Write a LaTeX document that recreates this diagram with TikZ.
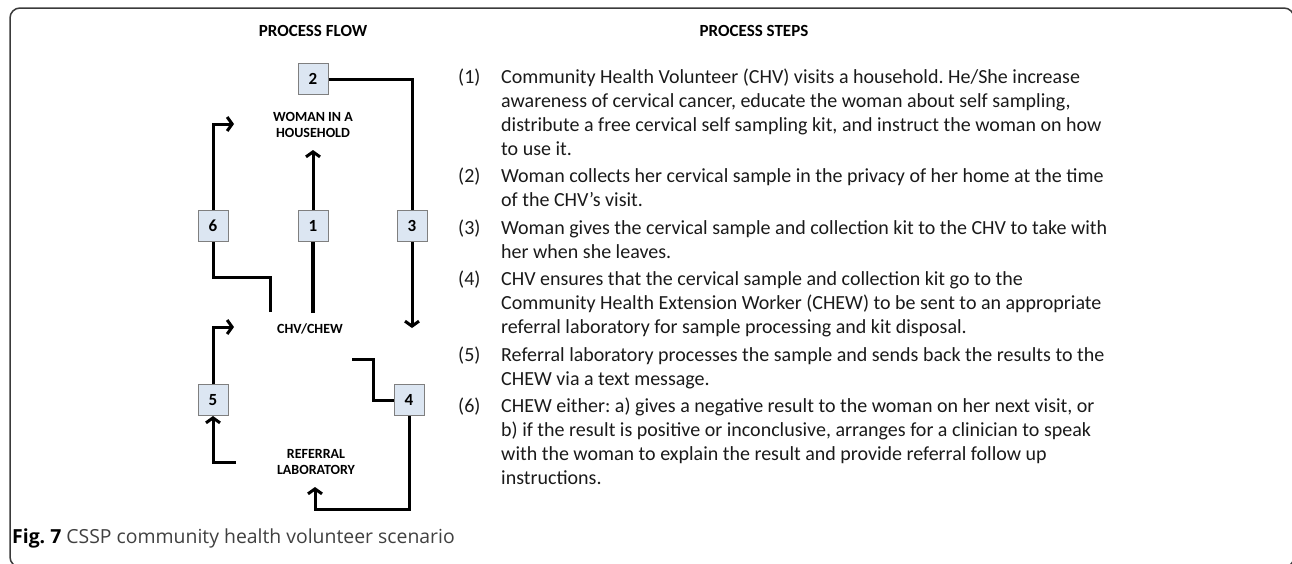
\documentclass[tikz,border=0pt]{standalone}
\usepackage{fontspec}
\setmainfont{Carlito}
\newfontfamily\capfont{Open Sans}
\usetikzlibrary{arrows.meta}
\definecolor{boxfill}{HTML}{DCE6F2}
\definecolor{boxline}{HTML}{7F7F7F}
\definecolor{framec}{HTML}{3A3A3A}
\definecolor{capgray}{HTML}{404040}
\definecolor{bodyc}{HTML}{1A1A1A}
\frenchspacing
\begin{document}
\begin{tikzpicture}[x=1pt,y=-1pt,
  flow/.style={line width=3pt,black},
  heavy/.style={line width=4.5pt,black},
  arr/.style={-{Straight Barb[length=5pt,width=14pt]}},
  numbox/.style={draw=boxline,fill=boxfill,line width=1pt,minimum width=30pt,
    minimum height=31pt,inner sep=0pt,font=\bfseries\fontsize{17}{17}\selectfont},
  place/.style={font=\bfseries\fontsize{14}{16}\selectfont,align=center,inner sep=0pt},
  head/.style={font=\bfseries\fontsize{17}{17}\selectfont,inner sep=0pt},
  stepnum/.style={anchor=base west,inner sep=0pt,text=bodyc,font=\fontsize{20}{24}\selectfont},
  % multi-line nodes: the base anchor sits on the last line
  steptext/.style={anchor=base west,inner sep=0pt,align=left,text=bodyc,font=\fontsize{20}{24}\selectfont}]
\useasboundingbox (0,0) rectangle (1292,563);

% outer frame, running off the right and bottom edges
\begin{scope}
  \clip (0,0) rectangle (1292,563);
  \draw[framec,line width=1.5pt,rounded corners=10pt] (10,8) rectangle (1294,567);
\end{scope}

% headings
\node[head] (hflow) at (313,31) {PROCESS FLOW};
\node[head] (hsteps) at (754,31) {PROCESS STEPS};

% places
\node[place] (woman) at (313,125) {WOMAN IN A\\HOUSEHOLD};
\node[place] (chv) at (310,329) {CHV/CHEW};
\node[place] (lab) at (316,462) {REFERRAL\\LABORATORY};

% step numbers
\node[numbox] (b2) at (313,79) {2};
\node[numbox] (b6) at (213,226) {6};
\node[numbox] (b1) at (313,226) {1};
\node[numbox] (b3) at (412,226) {3};
\node[numbox] (b5) at (213,400) {5};
\node[numbox] (b4) at (409,400) {4};

% free ends of the connectors
\coordinate (c1s) at (313,313);
\coordinate (c1e) at (313,150);
\coordinate (c3e) at (412,328);
\coordinate (c6s) at (270,312);
\coordinate (c6k) at (270,277);
\coordinate (c6e) at (234,124);
\coordinate (c5s) at (236,462);
\coordinate (c5e) at (234,327);
\coordinate (c4s) at (352,359);
\coordinate (c4k) at (373,359);
\coordinate (c4b) at (315,509);
\coordinate (c4e) at (315,487);

% (1) CHV to woman
\draw[heavy] (c1s) -- (b1.south);
\draw[flow,arr] (b1.north) -- (c1e);
% (2)-(3) woman back to CHV
\draw[flow] (b2.east) -| (b3.north);
\draw[flow,arr] (b3.south) -- (c3e);
% (4) CHV to laboratory
\draw[flow] (c4s) -- (c4k) |- (b4.west);
\draw[flow,arr] (b4.south) |- (c4b) -- (c4e);
% (5) laboratory to CHEW
\draw[flow,arr] (c5s) -| (b5.south);
\draw[flow,arr] (b5.north) |- (c5e);
% (6) CHEW to woman
\draw[flow] (c6s) -- (c6k) -| (b6.south);
\draw[flow,arr] (b6.north) |- (c6e);

% process steps (number on the first baseline, text block on its last one)
\node[stepnum] (n1) at (458,83) {(1)};
\node[steptext] (t1) at (501,155) {Community Health Volunteer (CHV) visits a household. He/She increase\\
awareness of cervical cancer, educate the woman about self sampling,\\
distribute a free cervical self sampling kit, and instruct the woman on how\\
to use it.};
\node[stepnum] (n2) at (458,182.5) {(2)};
\node[steptext] (t2) at (501,206.5) {Woman collects her cervical sample in the privacy of her home at the time\\
of the CHV’s visit.};
\node[stepnum] (n3) at (458,234) {(3)};
\node[steptext] (t3) at (501,258) {Woman gives the cervical sample and collection kit to the CHV to take with\\
her when she leaves.};
\node[stepnum] (n4) at (458,285.5) {(4)};
\node[steptext] (t4) at (501,333.5) {CHV ensures that the cervical sample and collection kit go to the\\
Community Health Extension Worker (CHEW) to be sent to an appropriate\\
referral laboratory for sample processing and kit disposal.};
\node[stepnum] (n5) at (458,361) {(5)};
\node[steptext] (t5) at (501,385) {Referral laboratory processes the sample and sends back the results to the\\
CHEW via a text message.};
\node[stepnum] (n6) at (458,412.5) {(6)};
\node[steptext] (t6) at (501,484.5) {CHEW either: a) gives a negative result to the woman on her next visit, or\\
b) if the result is positive or inconclusive, arranges for a clinician to speak\\
with the woman to explain the result and provide referral follow up\\
instructions.};

% caption
\node[anchor=base west,inner sep=0pt,text=capgray,font=\capfont\fontsize{19.4}{19.4}\selectfont]
  (cap) at (12,543) {\textbf{\color{black}Fig. 7} CSSP community health volunteer scenario};
\end{tikzpicture}
\end{document}
